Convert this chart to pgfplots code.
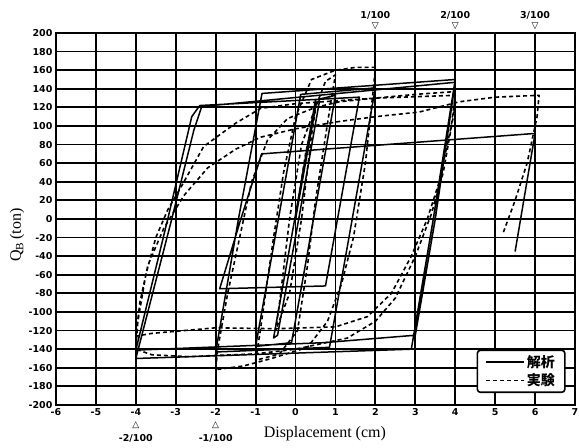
\documentclass[border=0pt]{standalone}
\usepackage{fontspec}
\usepackage{pgfplots}
\pgfplotsset{compat=1.18}
\setmainfont{Liberation Serif}
\setsansfont{DejaVu Sans}
\newfontfamily\cjk{Noto Sans CJK JP}
\newfontfamily\sym{DejaVu Sans}
\newcommand{\tickfont}{\sffamily\bfseries\fontsize{9.5}{11}\selectfont}
\newcommand{\trifont}{\sym\bfseries\fontsize{9}{10}\selectfont}
\begin{document}
\begin{tikzpicture}
\begin{axis}[name=ax, scale only axis, width=519pt, height=372pt,
 xmin=-6, xmax=7, ymin=-200, ymax=200,
 xtick={-6,...,7}, ytick={-200,-180,...,200},
 grid=major, major grid style={black, line width=1.8pt},
 axis line style={black, line width=1.8pt},
 tick style={black, line width=0.9pt}, major tick length=3pt,
 ticklabel style={font=\tickfont},
 /pgf/number format/assume math mode=true,
 clip=false,
 xlabel={Displacement (cm)}, ylabel={Q\textsubscript{B}\,(ton)},
 xlabel style={at={(axis description cs:0.518,-0.078)}, anchor=center, font=\fontsize{16}{18}\selectfont},
 ylabel style={at={(axis description cs:-0.0751,0.457)}, anchor=center, font=\fontsize{16}{18}\selectfont},
 legend style={at={(rel axis cs:0.982,0.032)}, anchor=south east, draw=black, line width=1.6pt,
   rounded corners=3pt, fill=white, font=\cjk\bfseries\fontsize{14}{16}\selectfont,
   inner xsep=8pt, inner ysep=3pt, row sep=1pt},
 legend image code/.code={\draw[#1, line width=1.5pt, rounded corners=0pt] (0pt,0pt) -- (38pt,0pt);},
]
\addplot[black, line width=1.5pt, line join=round] coordinates {
(0,0) (0.52,125) (0.6,127) (0.08,0) (-0.45,-125) (-0.55,-128) (-0.02,0) (0.5,128) (1.0,133)
(0.45,0) (-0.1,-133) (-1.0,-137) (-0.43,0) (0.13,134) (2.0,141) (1.42,0) (0.85,-138) (-2.0,-143)
(-1.43,0) (-0.84,135) (4.0,150) (3.45,0) (2.9,-140) (-4.0,-150) (-3.1,0) (-2.55,95) (-2.35,121)
(4.0,147) (3.5,0) (3.0,-125) (0.7,-133) (-4.0,-141) (-3.2,0) (-2.6,110) (-2.4,122) (1.6,131)
(0.75,-72) (-1.9,-75) (-1.37,0) (-0.85,70) (6.0,92) (5.5,-35)
};
\addlegendentry{解析}
\addplot[black, line width=1.6pt, dash pattern=on 4pt off 3pt, line join=round] coordinates {
(0,0) (0.25,70) (0.5,118) (0.4,90) (0.15,0) (-0.15,-80) (-0.5,-120) (-0.4,-90) (-0.15,0) (0.15,80)
(0.5,120) (0.75,148) (1.0,155) (0.9,130) (0.5,20) (0.3,-50) (0.05,-120) (-0.4,-145) (-1.0,-152)
(-0.9,-125) (-0.55,-20) (-0.3,50) (0,110) (0.4,150) (1.0,160) (1.5,163) (2.0,163) (1.95,140)
(1.75,60) (1.45,-20) (1.15,-70) (0.8,-110) (0.3,-138) (-0.6,-150) (-1.3,-158) (-2.0,-162)
(-1.95,-140) (-1.7,-80) (-1.4,-20) (-1.1,40) (-0.7,85) (-0.2,108) (0.5,120) (1.1,126) (2,130)
(3,134) (4,137) (3.95,110) (3.7,50) (3.4,5) (3.0,-40) (2.5,-85) (2.0,-110) (1.3,-128) (0,-140)
(-1,-145) (-2.7,-148) (-3.6,-146) (-4,-140) (-3.95,-110) (-3.75,-60) (-3.5,-20) (-3.2,10)
(-2.86,35) (-2.3,78) (-1.5,103) (-0.87,119) (0,124) (1,127) (2,130) (4,133) (3.9,100) (3.6,40)
(3.3,0) (2.9,-40) (2.4,-80) (1.8,-105) (1.0,-116) (-0.5,-118) (-2,-117) (-3.6,-123) (-4,-126)
(-3.9,-90) (-3.7,-50) (-3.3,-10) (-2.8,25) (-2.2,55) (-1.5,75) (-0.87,88) (0,97) (1.12,105)
(2,110) (3.1,115) (4.1,126) (5,131) (6.1,133) (6.05,110) (5.8,60) (5.5,20) (5.2,-15)
};
\addlegendentry{実験}
\node[font=\tickfont] at (axis cs:2,200) [yshift=18pt] {1/100};
\node[font=\trifont] at (axis cs:2,200) [yshift=6.5pt] {▽};
\node[font=\tickfont] at (axis cs:4,200) [yshift=18pt] {2/100};
\node[font=\trifont] at (axis cs:4,200) [yshift=6.5pt] {▽};
\node[font=\tickfont] at (axis cs:6,200) [yshift=18pt] {3/100};
\node[font=\trifont] at (axis cs:6,200) [yshift=6.5pt] {▽};
\node[font=\trifont] at (axis cs:-4,-200) [yshift=-20pt] {△};
\node[font=\tickfont] at (axis cs:-4,-200) [yshift=-33pt] {-2/100};
\node[font=\trifont] at (axis cs:-2,-200) [yshift=-20pt] {△};
\node[font=\tickfont] at (axis cs:-2,-200) [yshift=-33pt] {-1/100};
\end{axis}
\pgfresetboundingbox
\path ([xshift=-56pt,yshift=-43pt]ax.south west) rectangle ([xshift=4pt,yshift=33pt]ax.north east);
\end{tikzpicture}
\end{document}
